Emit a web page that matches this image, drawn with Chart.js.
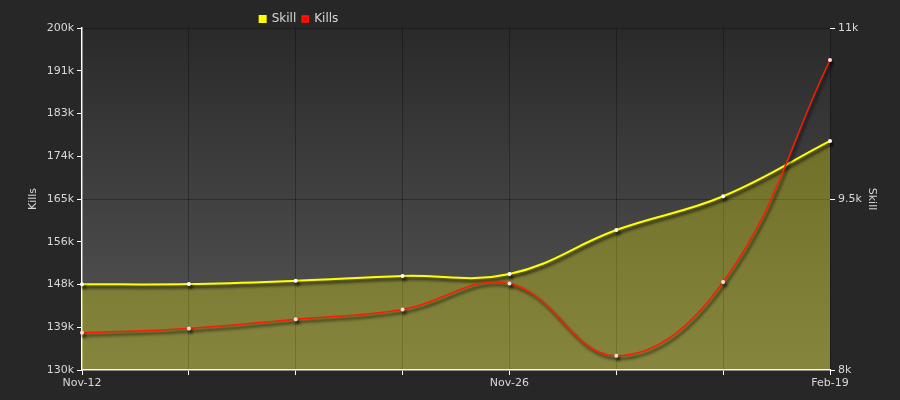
<!DOCTYPE html>
<html>
<head>
<meta charset="utf-8">
<script src="https://cdn.jsdelivr.net/npm/chart.js@4.4.1/dist/chart.umd.min.js"></script>
<style>
    html, body { margin: 0; padding: 0; background: #272727; }
    #wrap { width: 900px; height: 400px; }
</style>
</head>
<body>
<div id="wrap"><canvas id="statsChart"></canvas></div>
<script>
// Chart data
const dates = ['Nov-12', '', '', '', 'Nov-26', '', '', 'Feb-19'];
const skill = [8752, 8754, 8783, 8825, 8842, 9228, 9524, 10009];
const kills = [137600, 138500, 140400, 142400, 147700, 132900, 148000, 193450];
const killsTicks = ['130k', '139k', '148k', '156k', '165k', '174k', '183k', '191k', '200k'];
const skillTicks = ['8k', '9.5k', '11k'];

const textColor = '#d8d8d8';
const fontSpec = { family: 'DejaVu Sans', size: 11 };

// Gradient behind the plot area
const areaBackground = {
    id: 'areaBackground',
    beforeDraw(chart) {
        const { ctx, chartArea: a } = chart;
        const g = ctx.createLinearGradient(0, a.top, 0, a.bottom);
        g.addColorStop(0, '#2a2a2a');
        g.addColorStop(1, '#575757');
        ctx.save();
        ctx.fillStyle = g;
        ctx.fillRect(a.left, a.top, a.right - a.left, a.bottom - a.top);
        ctx.restore();
    }
};

// Drop shadow under the lines (fill is drawn before this by the filler)
const lineShadow = {
    id: 'lineShadow',
    beforeDatasetDraw(chart) {
        const ctx = chart.ctx;
        ctx.save();
        ctx.shadowColor = 'rgba(0, 0, 0, 0.75)';
        ctx.shadowBlur = 3;
        ctx.shadowOffsetX = 2;
        ctx.shadowOffsetY = 3;
    },
    afterDatasetDraw(chart) {
        chart.ctx.restore();
    }
};

// Fixed legend height and off-centre position like the original
const legendPlace = {
    id: 'legendPlace',
    beforeUpdate(chart) {
        const legend = chart.legend;
        if (legend && !legend._patched) {
            const fit = legend.fit;
            legend.fit = function () {
                fit.call(this);
                this.height = 28;
            };
            legend._patched = true;
        }
    },
    beforeDraw(chart) {
        const legend = chart.legend;
        legend.left = 0;
        legend.right = 598;
        legend.width = 598;
        legend.top = 7;
    }
};

const ctx = document.getElementById('statsChart').getContext('2d');
new Chart(ctx, {
    type: 'line',
    data: {
        labels: dates,
        datasets: [{
            label: 'Skill',
            data: skill,
            yAxisID: 'ySkill',
            borderColor: '#ffff00',
            borderWidth: 2,
            backgroundColor: '#ffff00',
            fill: { target: 'origin', above: 'rgba(255, 255, 0, 0.28)' },
            tension: 0.4,
            pointRadius: 2,
            pointBackgroundColor: '#ffffff',
            pointBorderWidth: 0,
            order: 2
        }, {
            label: 'Kills',
            data: kills,
            yAxisID: 'yKills',
            borderColor: '#ff1a00',
            borderWidth: 1.5,
            backgroundColor: '#ff0000',
            fill: false,
            tension: 0.4,
            pointRadius: 2,
            pointBackgroundColor: '#ffdddd',
            pointBorderWidth: 0,
            order: 1
        }]
    },
    options: {
        responsive: true,
        maintainAspectRatio: false,
        animation: false,
        layout: { padding: { left: 0, right: 0, top: 0, bottom: 0 } },
        scales: {
            x: {
                afterFit(scale) { scale.height = 30; },
                grid: {
                    color: 'rgba(0, 0, 0, 0.3)',
                    tickColor: '#ffffff',
                    tickLength: 5,
                    offset: false
                },
                border: { display: true, color: '#ffffff', width: 1.5 },
                ticks: {
                    color: textColor,
                    font: fontSpec,
                    maxRotation: 0,
                    autoSkip: false,
                    padding: 2
                }
            },
            yKills: {
                position: 'left',
                min: 130000,
                max: 200000,
                afterFit(scale) { scale.width = 82; },
                afterBuildTicks(scale) {
                    scale.ticks = killsTicks.map((t, i) => ({ value: 130000 + i * 8750 }));
                },
                grid: {
                    drawOnChartArea: false,
                    tickColor: '#ffffff',
                    tickLength: 5
                },
                border: { display: true, color: '#ffffff', width: 1.5 },
                ticks: {
                    color: textColor,
                    font: fontSpec,
                    padding: 3,
                    callback: (v, i) => killsTicks[i]
                },
                title: {
                    display: true,
                    text: 'Kills',
                    color: textColor,
                    font: fontSpec,
                    padding: { top: 27, bottom: 4 }
                }
            },
            ySkill: {
                position: 'right',
                min: 8000,
                max: 11000,
                afterFit(scale) { scale.width = 70; },
                afterBuildTicks(scale) {
                    scale.ticks = skillTicks.map((t, i) => ({ value: 8000 + i * 1500 }));
                },
                grid: {
                    color: 'rgba(0, 0, 0, 0.3)',
                    tickColor: '#ffffff',
                    tickLength: 5
                },
                border: { display: false },
                ticks: {
                    color: textColor,
                    font: fontSpec,
                    padding: 3,
                    callback: (v, i) => skillTicks[i]
                },
                title: {
                    display: true,
                    text: 'Skill',
                    color: textColor,
                    font: fontSpec,
                    padding: { top: 22, bottom: 4 }
                }
            }
        },
        plugins: {
            legend: {
                position: 'top',
                labels: {
                    color: textColor,
                    font: { family: 'DejaVu Sans', size: 12 },
                    boxWidth: 6,
                    boxHeight: 6,
                    padding: 6,
                    sort: (a, b) => a.datasetIndex - b.datasetIndex
                }
            },
            tooltip: { enabled: false }
        }
    },
    plugins: [areaBackground, lineShadow, legendPlace]
});
</script>
</body>
</html>
